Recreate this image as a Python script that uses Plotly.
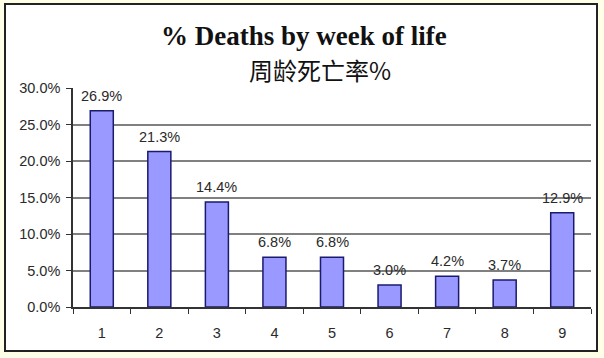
import plotly.graph_objects as go

weeks = ["1", "2", "3", "4", "5", "6", "7", "8", "9"]
deaths = [0.269, 0.213, 0.144, 0.068, 0.068, 0.030, 0.042, 0.037, 0.129]
labels = ["26.9%", "21.3%", "14.4%", "6.8%", "6.8%", "3.0%", "4.2%", "3.7%", "12.9%"]

W, H = 604, 358
L, R, T, B = 73, 13, 88, 51
pw, ph = W - L - R, H - T - B

def px_x(x):
    return (x - L) / pw

def px_y(y):
    return (H - B - y) / ph

FONT = "Arial, Liberation Sans"
TXT = "#2a2a2a"

fig = go.Figure()
fig.add_trace(go.Bar(
    x=list(range(len(weeks))), y=deaths,
    marker=dict(color="#9999FF", line=dict(color="#1a1a6e", width=1.5)),
    hoverinfo="skip",
))

for i, (v, t) in enumerate(zip(deaths, labels)):
    fig.add_annotation(x=i, y=v, text=t, showarrow=False, yanchor="bottom",
                       yshift=5, font=dict(family=FONT, size=14.5, color=TXT))

fig.add_shape(type="rect", xref="paper", yref="paper",
              x0=px_x(5), x1=px_x(597), y0=px_y(351), y1=px_y(4),
              line=dict(color="#222222", width=2), fillcolor="white", layer="below")

fig.add_annotation(xref="paper", yref="paper", x=px_x(304), y=px_y(36), text="<b>% Deaths by week of life</b>",
                   showarrow=False, xanchor="center", yanchor="middle",
                   font=dict(family="Liberation Serif, Times New Roman", size=27, color="#111111"))
fig.add_annotation(xref="paper", yref="paper", x=px_x(320), y=px_y(70), text="周龄死亡率%",
                   showarrow=False, xanchor="center", yanchor="middle",
                   font=dict(family="Noto Sans CJK SC", size=24, color="#111111"))

fig.update_layout(
    width=W, height=H,
    margin=dict(l=L, r=R, t=T, b=B, pad=0),
    paper_bgcolor="#FFFFE8", plot_bgcolor="white",
    bargap=0.6, showlegend=False,
)
fig.update_xaxes(
    range=[-0.5, 8.5], tickmode="array",
    tickvals=list(range(len(weeks))), ticktext=weeks,
    showline=True, linecolor="#333333", linewidth=1.5,
    ticks="", showgrid=False, zeroline=False, ticklabelstandoff=12,
    minor=dict(tickmode="array", tickvals=[i - 0.5 for i in range(len(weeks) + 1)],
               ticks="outside", ticklen=5, tickcolor="#333333", showgrid=False),
    tickfont=dict(family=FONT, size=14.5, color=TXT),
)
fig.update_yaxes(
    range=[0, 0.30], dtick=0.05, tickformat=".1%",
    showline=True, linecolor="#333333", linewidth=1.5,
    ticks="outside", ticklen=5, tickcolor="#333333", ticklabelstandoff=3,
    showgrid=True, gridcolor="#808080", gridwidth=1.5, zeroline=False,
    tickfont=dict(family=FONT, size=14.5, color=TXT),
)

fig.write_html("out.html", config={"displayModeBar": False},
               post_script="document.body.style.margin='0';document.body.style.overflow='hidden';")
